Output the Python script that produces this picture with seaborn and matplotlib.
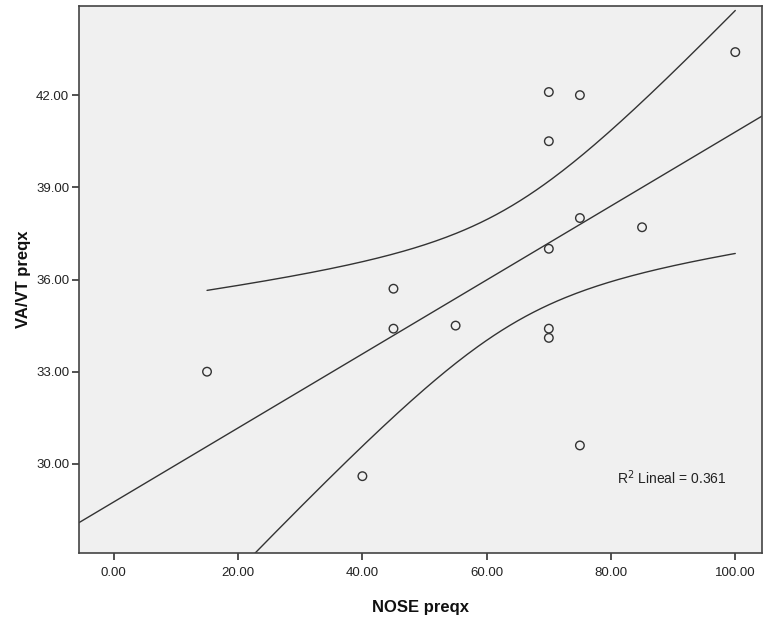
import numpy as np
import pandas as pd
import matplotlib
matplotlib.use("Agg")
import matplotlib.pyplot as plt
import seaborn as sns

# Data
nose_preqx = [15, 40, 45, 45, 55, 70, 75, 70, 70, 75, 85, 70, 70, 75, 100]
vavt_preqx = [33.0, 29.6, 35.7, 34.4, 34.5, 42.1, 42.0, 40.5, 37.0, 38.0, 37.7, 34.4, 34.1, 30.6, 43.4]
x_ticks = [0, 20, 40, 60, 80, 100]
y_ticks = [30, 33, 36, 39, 42]
r2_label = "R$^2$ Lineal = 0.361"

df = pd.DataFrame({"NOSE preqx": nose_preqx, "VA/VT preqx": vavt_preqx})

sns.set_style("white")
plt.rcParams['font.family'] = ['Liberation Sans', 'DejaVu Sans']

fig = plt.figure(figsize=(7.64, 6.17), dpi=100)
ax = fig.add_axes([79/764, (617-553)/617, (762-79)/764, (553-6)/617])
ax.set_facecolor("#F0F0F0")

xlim = (-5.6, 104.3)
ylim = (27.1, 44.9)
ax.set_xlim(*xlim)
ax.set_ylim(*ylim)

line_col = "#333333"
# Fit line across full x range
sns.regplot(data=df, x="NOSE preqx", y="VA/VT preqx", ax=ax, ci=None, truncate=False,
            scatter=False, line_kws=dict(color=line_col, lw=1.0))

# 95% mean confidence interval curves
x = np.asarray(nose_preqx, float)
y = np.asarray(vavt_preqx, float)
n = len(x)
b, a = np.polyfit(x, y, 1)
resid = y - (a + b * x)
s = np.sqrt(np.sum(resid**2) / (n - 2))
sxx = np.sum((x - x.mean())**2)
t = 2.160
xs = np.linspace(x.min(), x.max(), 200)
yh = a + b * xs
hw = t * s * np.sqrt(1/n + (xs - x.mean())**2 / sxx)
ax.plot(xs, yh + hw, color=line_col, lw=1.0)
ax.plot(xs, yh - hw, color=line_col, lw=1.0)

sns.scatterplot(data=df, x="NOSE preqx", y="VA/VT preqx", ax=ax, marker="o", s=38,
                facecolor="none", edgecolor="#333333", linewidth=1.0, zorder=5)

ax.set_xlim(*xlim)
ax.set_ylim(*ylim)
ax.set_xticks(x_ticks)
ax.set_xticklabels([f"{v:.2f}" for v in x_ticks])
ax.set_yticks(y_ticks)
ax.set_yticklabels([f"{v:.2f}" for v in y_ticks])
ax.tick_params(axis="both", direction="out", length=5, width=1.2, color="#333333",
               labelsize=9.5, labelcolor="#222222", left=True, bottom=True)
ax.tick_params(axis="x", pad=5)
ax.tick_params(axis="y", pad=2)
for sp in ax.spines.values():
    sp.set_color("#444444")
    sp.set_linewidth(1.2)

ax.set_xlabel("NOSE preqx", fontsize=12, fontweight="bold", color="#111111", labelpad=15)
ax.set_ylabel("VA/VT preqx", fontsize=12, fontweight="bold", color="#111111", labelpad=4)

ax.text(81.0, 29.55, r2_label, fontsize=10, color="#222222", va="center", ha="left")

fig.savefig("out.png", dpi=100)
